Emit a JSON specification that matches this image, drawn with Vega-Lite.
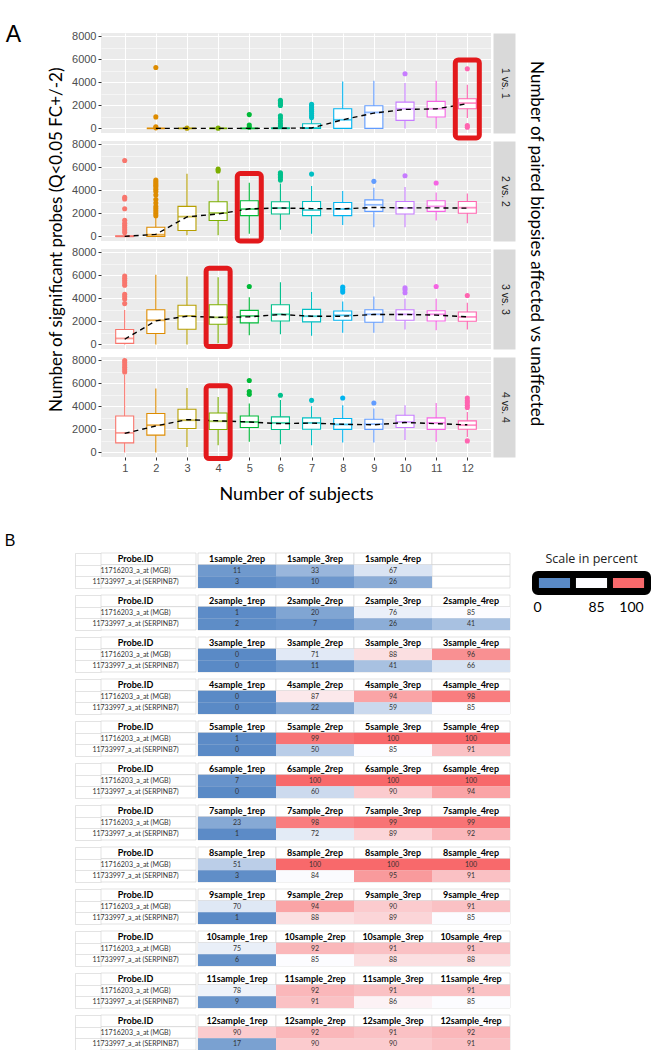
{
"$schema":"https://vega.github.io/schema/vega-lite/v6.json",
"padding":{"left":4,"top":24,"right":0,"bottom":0},
"background":"white",
"config":{"view":{"stroke":null},"title":{"color":"black"}},
"resolve":{"scale":{"color":"independent","stroke":"independent"}},
"spacing":29,
"datasets":{
"box":[
{"cmp":"1 vs. 1","n":2,"lo":0,"q1":0,"med":0,"q3":0,"hi":0,"tr":0},
{"cmp":"1 vs. 1","n":3,"lo":0,"q1":0,"med":0,"q3":0,"hi":0,"tr":0},
{"cmp":"1 vs. 1","n":4,"lo":0,"q1":0,"med":0,"q3":0,"hi":0,"tr":0},
{"cmp":"1 vs. 1","n":5,"lo":0,"q1":0,"med":0,"q3":0,"hi":0,"tr":0},
{"cmp":"1 vs. 1","n":6,"lo":0,"q1":0,"med":0,"q3":40,"hi":80,"tr":10},
{"cmp":"1 vs. 1","n":7,"lo":0,"q1":0,"med":40,"q3":400,"hi":850,"tr":40},
{"cmp":"1 vs. 1","n":8,"lo":0,"q1":0,"med":750,"q3":1710,"hi":4090,"tr":750},
{"cmp":"1 vs. 1","n":9,"lo":0,"q1":0,"med":1390,"q3":1970,"hi":4150,"tr":1330},
{"cmp":"1 vs. 1","n":10,"lo":0,"q1":700,"med":1710,"q3":2290,"hi":3940,"tr":1650},
{"cmp":"1 vs. 1","n":11,"lo":0,"q1":990,"med":1710,"q3":2350,"hi":4150,"tr":1700},
{"cmp":"1 vs. 1","n":12,"lo":900,"q1":1710,"med":2200,"q3":2580,"hi":3800,"tr":2150},
{"cmp":"2 vs. 2","n":1,"lo":0,"q1":0,"med":0,"q3":60,"hi":150,"tr":0},
{"cmp":"2 vs. 2","n":2,"lo":0,"q1":0,"med":150,"q3":800,"hi":1600,"tr":180},
{"cmp":"2 vs. 2","n":3,"lo":90,"q1":520,"med":1720,"q3":2610,"hi":5450,"tr":1700},
{"cmp":"2 vs. 2","n":4,"lo":90,"q1":1380,"med":2040,"q3":3010,"hi":4870,"tr":1950},
{"cmp":"2 vs. 2","n":5,"lo":230,"q1":1810,"med":2380,"q3":3100,"hi":4670,"tr":2400},
{"cmp":"2 vs. 2","n":6,"lo":570,"q1":1950,"med":2470,"q3":3010,"hi":4600,"tr":2470},
{"cmp":"2 vs. 2","n":7,"lo":230,"q1":1810,"med":2290,"q3":3040,"hi":4390,"tr":2420},
{"cmp":"2 vs. 2","n":8,"lo":1000,"q1":1810,"med":2380,"q3":2950,"hi":3960,"tr":2400},
{"cmp":"2 vs. 2","n":9,"lo":800,"q1":2180,"med":2750,"q3":3180,"hi":4240,"tr":2520},
{"cmp":"2 vs. 2","n":10,"lo":800,"q1":1950,"med":2470,"q3":3040,"hi":4300,"tr":2480},
{"cmp":"2 vs. 2","n":11,"lo":1380,"q1":2180,"med":2610,"q3":3100,"hi":3810,"tr":2480},
{"cmp":"2 vs. 2","n":12,"lo":1150,"q1":2010,"med":2500,"q3":3040,"hi":3730,"tr":2460},
{"cmp":"3 vs. 3","n":1,"lo":0,"q1":90,"med":520,"q3":1300,"hi":3000,"tr":450},
{"cmp":"3 vs. 3","n":2,"lo":0,"q1":950,"med":2100,"q3":3020,"hi":6070,"tr":2050},
{"cmp":"3 vs. 3","n":3,"lo":0,"q1":1320,"med":2480,"q3":3400,"hi":5900,"tr":2450},
{"cmp":"3 vs. 3","n":4,"lo":100,"q1":1750,"med":2350,"q3":3450,"hi":5850,"tr":2350},
{"cmp":"3 vs. 3","n":5,"lo":800,"q1":1870,"med":2480,"q3":2960,"hi":4110,"tr":2400},
{"cmp":"3 vs. 3","n":6,"lo":890,"q1":2040,"med":2620,"q3":3450,"hi":5410,"tr":2600},
{"cmp":"3 vs. 3","n":7,"lo":750,"q1":1960,"med":2450,"q3":3050,"hi":4550,"tr":2450},
{"cmp":"3 vs. 3","n":8,"lo":1010,"q1":2100,"med":2530,"q3":2900,"hi":3740,"tr":2450},
{"cmp":"3 vs. 3","n":9,"lo":1010,"q1":1930,"med":2620,"q3":3020,"hi":4170,"tr":2600},
{"cmp":"3 vs. 3","n":10,"lo":1300,"q1":2100,"med":2620,"q3":3020,"hi":3970,"tr":2600},
{"cmp":"3 vs. 3","n":11,"lo":1240,"q1":2040,"med":2620,"q3":2930,"hi":3970,"tr":2550},
{"cmp":"3 vs. 3","n":12,"lo":1300,"q1":2010,"med":2390,"q3":2820,"hi":3630,"tr":2400},
{"cmp":"4 vs. 4","n":1,"lo":0,"q1":830,"med":1700,"q3":3170,"hi":6750,"tr":1650},
{"cmp":"4 vs. 4","n":2,"lo":0,"q1":1500,"med":2370,"q3":3380,"hi":5550,"tr":2300},
{"cmp":"4 vs. 4","n":3,"lo":480,"q1":2080,"med":2800,"q3":3750,"hi":5600,"tr":2850},
{"cmp":"4 vs. 4","n":4,"lo":630,"q1":1990,"med":2710,"q3":3430,"hi":4820,"tr":2750},
{"cmp":"4 vs. 4","n":5,"lo":920,"q1":2170,"med":2650,"q3":3170,"hi":4250,"tr":2650},
{"cmp":"4 vs. 4","n":6,"lo":720,"q1":1990,"med":2570,"q3":3090,"hi":4550,"tr":2500},
{"cmp":"4 vs. 4","n":7,"lo":630,"q1":2020,"med":2570,"q3":3000,"hi":4010,"tr":2550},
{"cmp":"4 vs. 4","n":8,"lo":870,"q1":2000,"med":2430,"q3":2950,"hi":4100,"tr":2450},
{"cmp":"4 vs. 4","n":9,"lo":870,"q1":2000,"med":2460,"q3":2890,"hi":3810,"tr":2400},
{"cmp":"4 vs. 4","n":10,"lo":1070,"q1":2170,"med":2650,"q3":3230,"hi":4100,"tr":2600},
{"cmp":"4 vs. 4","n":11,"lo":920,"q1":2000,"med":2570,"q3":3000,"hi":4300,"tr":2500},
{"cmp":"4 vs. 4","n":12,"lo":1350,"q1":2020,"med":2370,"q3":2740,"hi":3520,"tr":2400}
],
"out":[
{"cmp":"1 vs. 1","n":2,"v":5300},{"cmp":"1 vs. 1","n":2,"v":1000},{"cmp":"1 vs. 1","n":2,"v":150},{"cmp":"1 vs. 1","n":2,"v":50},
{"cmp":"1 vs. 1","n":3,"v":20},{"cmp":"1 vs. 1","n":4,"v":20},
{"cmp":"1 vs. 1","n":5,"v":1200},{"cmp":"1 vs. 1","n":5,"v":300},{"cmp":"1 vs. 1","n":5,"v":100},
{"cmp":"1 vs. 1","n":6,"v":2450},{"cmp":"1 vs. 1","n":6,"v":2300},{"cmp":"1 vs. 1","n":6,"v":2150},{"cmp":"1 vs. 1","n":6,"v":2000},{"cmp":"1 vs. 1","n":6,"v":1100},{"cmp":"1 vs. 1","n":6,"v":900},{"cmp":"1 vs. 1","n":6,"v":650},{"cmp":"1 vs. 1","n":6,"v":400},{"cmp":"1 vs. 1","n":6,"v":200},
{"cmp":"1 vs. 1","n":7,"v":2100},{"cmp":"1 vs. 1","n":7,"v":1950},{"cmp":"1 vs. 1","n":7,"v":1800},{"cmp":"1 vs. 1","n":7,"v":1650},{"cmp":"1 vs. 1","n":7,"v":1500},{"cmp":"1 vs. 1","n":7,"v":1300},{"cmp":"1 vs. 1","n":7,"v":1100},{"cmp":"1 vs. 1","n":7,"v":950},
{"cmp":"1 vs. 1","n":10,"v":4760},
{"cmp":"1 vs. 1","n":12,"v":5190},{"cmp":"1 vs. 1","n":12,"v":250},{"cmp":"1 vs. 1","n":12,"v":100},
{"cmp":"2 vs. 2","n":1,"v":6600},{"cmp":"2 vs. 2","n":1,"v":3400},{"cmp":"2 vs. 2","n":1,"v":3250},{"cmp":"2 vs. 2","n":1,"v":2400},{"cmp":"2 vs. 2","n":1,"v":1400},{"cmp":"2 vs. 2","n":1,"v":1150},{"cmp":"2 vs. 2","n":1,"v":950},{"cmp":"2 vs. 2","n":1,"v":750},{"cmp":"2 vs. 2","n":1,"v":550},{"cmp":"2 vs. 2","n":1,"v":350},
{"cmp":"2 vs. 2","n":2,"v":4900},{"cmp":"2 vs. 2","n":2,"v":4750},{"cmp":"2 vs. 2","n":2,"v":4600},{"cmp":"2 vs. 2","n":2,"v":4450},{"cmp":"2 vs. 2","n":2,"v":4300},{"cmp":"2 vs. 2","n":2,"v":4100},{"cmp":"2 vs. 2","n":2,"v":3900},{"cmp":"2 vs. 2","n":2,"v":3600},{"cmp":"2 vs. 2","n":2,"v":3200},{"cmp":"2 vs. 2","n":2,"v":2900},{"cmp":"2 vs. 2","n":2,"v":2600},{"cmp":"2 vs. 2","n":2,"v":2400},{"cmp":"2 vs. 2","n":2,"v":2200},{"cmp":"2 vs. 2","n":2,"v":2000},{"cmp":"2 vs. 2","n":2,"v":1800},
{"cmp":"2 vs. 2","n":4,"v":5850},{"cmp":"2 vs. 2","n":4,"v":5700},
{"cmp":"2 vs. 2","n":6,"v":5530},{"cmp":"2 vs. 2","n":6,"v":5400},{"cmp":"2 vs. 2","n":6,"v":5250},{"cmp":"2 vs. 2","n":6,"v":5100},{"cmp":"2 vs. 2","n":6,"v":4900},
{"cmp":"2 vs. 2","n":7,"v":5420},{"cmp":"2 vs. 2","n":9,"v":4790},{"cmp":"2 vs. 2","n":10,"v":5280},{"cmp":"2 vs. 2","n":11,"v":4650},
{"cmp":"3 vs. 3","n":1,"v":5950},{"cmp":"3 vs. 3","n":1,"v":5750},{"cmp":"3 vs. 3","n":1,"v":5550},{"cmp":"3 vs. 3","n":1,"v":5350},{"cmp":"3 vs. 3","n":1,"v":5150},{"cmp":"3 vs. 3","n":1,"v":4350},{"cmp":"3 vs. 3","n":1,"v":4150},{"cmp":"3 vs. 3","n":1,"v":3950},{"cmp":"3 vs. 3","n":1,"v":3550},
{"cmp":"3 vs. 3","n":5,"v":5040},
{"cmp":"3 vs. 3","n":8,"v":4980},{"cmp":"3 vs. 3","n":8,"v":4750},{"cmp":"3 vs. 3","n":8,"v":4550},
{"cmp":"3 vs. 3","n":10,"v":4920},{"cmp":"3 vs. 3","n":10,"v":4750},{"cmp":"3 vs. 3","n":10,"v":4490},
{"cmp":"3 vs. 3","n":11,"v":5040},{"cmp":"3 vs. 3","n":12,"v":4260},
{"cmp":"4 vs. 4","n":1,"v":8000},{"cmp":"4 vs. 4","n":1,"v":7800},{"cmp":"4 vs. 4","n":1,"v":7600},{"cmp":"4 vs. 4","n":1,"v":7400},{"cmp":"4 vs. 4","n":1,"v":7200},{"cmp":"4 vs. 4","n":1,"v":7000},
{"cmp":"4 vs. 4","n":5,"v":6250},{"cmp":"4 vs. 4","n":5,"v":5300},{"cmp":"4 vs. 4","n":5,"v":5050},
{"cmp":"4 vs. 4","n":6,"v":4970},{"cmp":"4 vs. 4","n":7,"v":4530},{"cmp":"4 vs. 4","n":8,"v":4730},{"cmp":"4 vs. 4","n":9,"v":4300},
{"cmp":"4 vs. 4","n":12,"v":4730},{"cmp":"4 vs. 4","n":12,"v":4500},{"cmp":"4 vs. 4","n":12,"v":4330},{"cmp":"4 vs. 4","n":12,"v":4100},{"cmp":"4 vs. 4","n":12,"v":3900},{"cmp":"4 vs. 4","n":12,"v":1000}
],
"hl":[
{"cmp":"1 vs. 1","n":12,"top":5950,"bot":-830},
{"cmp":"2 vs. 2","n":5,"top":5470,"bot":-390},
{"cmp":"3 vs. 3","n":4,"top":6630,"bot":-190},
{"cmp":"4 vs. 4","n":4,"top":5790,"bot":-540}
],
"tbl":[
{"b":1,"c":0,"r":"h","t":"Probe.ID"},{"b":1,"c":0,"r":"a","t":"11716203_a_at (MGB)"},{"b":1,"c":0,"r":"b","t":"11733997_a_at (SERPINB7)"},
{"b":1,"c":1,"r":"h","t":"1sample_2rep"},{"b":1,"c":1,"r":"a","p":11},{"b":1,"c":1,"r":"b","p":3},
{"b":1,"c":2,"r":"h","t":"1sample_3rep"},{"b":1,"c":2,"r":"a","p":33},{"b":1,"c":2,"r":"b","p":10},
{"b":1,"c":3,"r":"h","t":"1sample_4rep"},{"b":1,"c":3,"r":"a","p":67},{"b":1,"c":3,"r":"b","p":26},
{"b":1,"c":4,"r":"h","t":""},{"b":1,"c":4,"r":"a"},{"b":1,"c":4,"r":"b"},
{"b":2,"c":0,"r":"h","t":"Probe.ID"},{"b":2,"c":0,"r":"a","t":"11716203_a_at (MGB)"},{"b":2,"c":0,"r":"b","t":"11733997_a_at (SERPINB7)"},
{"b":2,"c":1,"r":"h","t":"2sample_1rep"},{"b":2,"c":1,"r":"a","p":1},{"b":2,"c":1,"r":"b","p":2},
{"b":2,"c":2,"r":"h","t":"2sample_2rep"},{"b":2,"c":2,"r":"a","p":20},{"b":2,"c":2,"r":"b","p":7},
{"b":2,"c":3,"r":"h","t":"2sample_3rep"},{"b":2,"c":3,"r":"a","p":76},{"b":2,"c":3,"r":"b","p":26},
{"b":2,"c":4,"r":"h","t":"2sample_4rep"},{"b":2,"c":4,"r":"a","p":85},{"b":2,"c":4,"r":"b","p":41},
{"b":3,"c":0,"r":"h","t":"Probe.ID"},{"b":3,"c":0,"r":"a","t":"11716203_a_at (MGB)"},{"b":3,"c":0,"r":"b","t":"11733997_a_at (SERPINB7)"},
{"b":3,"c":1,"r":"h","t":"3sample_1rep"},{"b":3,"c":1,"r":"a","p":0},{"b":3,"c":1,"r":"b","p":0},
{"b":3,"c":2,"r":"h","t":"3sample_2rep"},{"b":3,"c":2,"r":"a","p":71},{"b":3,"c":2,"r":"b","p":11},
{"b":3,"c":3,"r":"h","t":"3sample_3rep"},{"b":3,"c":3,"r":"a","p":88},{"b":3,"c":3,"r":"b","p":41},
{"b":3,"c":4,"r":"h","t":"3sample_4rep"},{"b":3,"c":4,"r":"a","p":96},{"b":3,"c":4,"r":"b","p":66},
{"b":4,"c":0,"r":"h","t":"Probe.ID"},{"b":4,"c":0,"r":"a","t":"11716203_a_at (MGB)"},{"b":4,"c":0,"r":"b","t":"11733997_a_at (SERPINB7)"},
{"b":4,"c":1,"r":"h","t":"4sample_1rep"},{"b":4,"c":1,"r":"a","p":0},{"b":4,"c":1,"r":"b","p":0},
{"b":4,"c":2,"r":"h","t":"4sample_2rep"},{"b":4,"c":2,"r":"a","p":87},{"b":4,"c":2,"r":"b","p":22},
{"b":4,"c":3,"r":"h","t":"4sample_3rep"},{"b":4,"c":3,"r":"a","p":94},{"b":4,"c":3,"r":"b","p":59},
{"b":4,"c":4,"r":"h","t":"4sample_4rep"},{"b":4,"c":4,"r":"a","p":98},{"b":4,"c":4,"r":"b","p":85},
{"b":5,"c":0,"r":"h","t":"Probe.ID"},{"b":5,"c":0,"r":"a","t":"11716203_a_at (MGB)"},{"b":5,"c":0,"r":"b","t":"11733997_a_at (SERPINB7)"},
{"b":5,"c":1,"r":"h","t":"5sample_1rep"},{"b":5,"c":1,"r":"a","p":1},{"b":5,"c":1,"r":"b","p":0},
{"b":5,"c":2,"r":"h","t":"5sample_2rep"},{"b":5,"c":2,"r":"a","p":99},{"b":5,"c":2,"r":"b","p":50},
{"b":5,"c":3,"r":"h","t":"5sample_3rep"},{"b":5,"c":3,"r":"a","p":100},{"b":5,"c":3,"r":"b","p":85},
{"b":5,"c":4,"r":"h","t":"5sample_4rep"},{"b":5,"c":4,"r":"a","p":100},{"b":5,"c":4,"r":"b","p":91},
{"b":6,"c":0,"r":"h","t":"Probe.ID"},{"b":6,"c":0,"r":"a","t":"11716203_a_at (MGB)"},{"b":6,"c":0,"r":"b","t":"11733997_a_at (SERPINB7)"},
{"b":6,"c":1,"r":"h","t":"6sample_1rep"},{"b":6,"c":1,"r":"a","p":7},{"b":6,"c":1,"r":"b","p":0},
{"b":6,"c":2,"r":"h","t":"6sample_2rep"},{"b":6,"c":2,"r":"a","p":100},{"b":6,"c":2,"r":"b","p":60},
{"b":6,"c":3,"r":"h","t":"6sample_3rep"},{"b":6,"c":3,"r":"a","p":100},{"b":6,"c":3,"r":"b","p":90},
{"b":6,"c":4,"r":"h","t":"6sample_4rep"},{"b":6,"c":4,"r":"a","p":100},{"b":6,"c":4,"r":"b","p":94},
{"b":7,"c":0,"r":"h","t":"Probe.ID"},{"b":7,"c":0,"r":"a","t":"11716203_a_at (MGB)"},{"b":7,"c":0,"r":"b","t":"11733997_a_at (SERPINB7)"},
{"b":7,"c":1,"r":"h","t":"7sample_1rep"},{"b":7,"c":1,"r":"a","p":23},{"b":7,"c":1,"r":"b","p":1},
{"b":7,"c":2,"r":"h","t":"7sample_2rep"},{"b":7,"c":2,"r":"a","p":98},{"b":7,"c":2,"r":"b","p":72},
{"b":7,"c":3,"r":"h","t":"7sample_3rep"},{"b":7,"c":3,"r":"a","p":99},{"b":7,"c":3,"r":"b","p":89},
{"b":7,"c":4,"r":"h","t":"7sample_4rep"},{"b":7,"c":4,"r":"a","p":99},{"b":7,"c":4,"r":"b","p":92},
{"b":8,"c":0,"r":"h","t":"Probe.ID"},{"b":8,"c":0,"r":"a","t":"11716203_a_at (MGB)"},{"b":8,"c":0,"r":"b","t":"11733997_a_at (SERPINB7)"},
{"b":8,"c":1,"r":"h","t":"8sample_1rep"},{"b":8,"c":1,"r":"a","p":51},{"b":8,"c":1,"r":"b","p":3},
{"b":8,"c":2,"r":"h","t":"8sample_2rep"},{"b":8,"c":2,"r":"a","p":100},{"b":8,"c":2,"r":"b","p":84},
{"b":8,"c":3,"r":"h","t":"8sample_3rep"},{"b":8,"c":3,"r":"a","p":100},{"b":8,"c":3,"r":"b","p":95},
{"b":8,"c":4,"r":"h","t":"8sample_4rep"},{"b":8,"c":4,"r":"a","p":100},{"b":8,"c":4,"r":"b","p":91},
{"b":9,"c":0,"r":"h","t":"Probe.ID"},{"b":9,"c":0,"r":"a","t":"11716203_a_at (MGB)"},{"b":9,"c":0,"r":"b","t":"11733997_a_at (SERPINB7)"},
{"b":9,"c":1,"r":"h","t":"9sample_1rep"},{"b":9,"c":1,"r":"a","p":70},{"b":9,"c":1,"r":"b","p":1},
{"b":9,"c":2,"r":"h","t":"9sample_2rep"},{"b":9,"c":2,"r":"a","p":94},{"b":9,"c":2,"r":"b","p":88},
{"b":9,"c":3,"r":"h","t":"9sample_3rep"},{"b":9,"c":3,"r":"a","p":90},{"b":9,"c":3,"r":"b","p":89},
{"b":9,"c":4,"r":"h","t":"9sample_4rep"},{"b":9,"c":4,"r":"a","p":91},{"b":9,"c":4,"r":"b","p":85},
{"b":10,"c":0,"r":"h","t":"Probe.ID"},{"b":10,"c":0,"r":"a","t":"11716203_a_at (MGB)"},{"b":10,"c":0,"r":"b","t":"11733997_a_at (SERPINB7)"},
{"b":10,"c":1,"r":"h","t":"10sample_1rep"},{"b":10,"c":1,"r":"a","p":75},{"b":10,"c":1,"r":"b","p":6},
{"b":10,"c":2,"r":"h","t":"10sample_2rep"},{"b":10,"c":2,"r":"a","p":92},{"b":10,"c":2,"r":"b","p":85},
{"b":10,"c":3,"r":"h","t":"10sample_3rep"},{"b":10,"c":3,"r":"a","p":91},{"b":10,"c":3,"r":"b","p":88},
{"b":10,"c":4,"r":"h","t":"10sample_4rep"},{"b":10,"c":4,"r":"a","p":91},{"b":10,"c":4,"r":"b","p":88},
{"b":11,"c":0,"r":"h","t":"Probe.ID"},{"b":11,"c":0,"r":"a","t":"11716203_a_at (MGB)"},{"b":11,"c":0,"r":"b","t":"11733997_a_at (SERPINB7)"},
{"b":11,"c":1,"r":"h","t":"11sample_1rep"},{"b":11,"c":1,"r":"a","p":78},{"b":11,"c":1,"r":"b","p":9},
{"b":11,"c":2,"r":"h","t":"11sample_2rep"},{"b":11,"c":2,"r":"a","p":92},{"b":11,"c":2,"r":"b","p":91},
{"b":11,"c":3,"r":"h","t":"11sample_3rep"},{"b":11,"c":3,"r":"a","p":91},{"b":11,"c":3,"r":"b","p":86},
{"b":11,"c":4,"r":"h","t":"11sample_4rep"},{"b":11,"c":4,"r":"a","p":91},{"b":11,"c":4,"r":"b","p":85},
{"b":12,"c":0,"r":"h","t":"Probe.ID"},{"b":12,"c":0,"r":"a","t":"11716203_a_at (MGB)"},{"b":12,"c":0,"r":"b","t":"11733997_a_at (SERPINB7)"},
{"b":12,"c":1,"r":"h","t":"12sample_1rep"},{"b":12,"c":1,"r":"a","p":90},{"b":12,"c":1,"r":"b","p":17},
{"b":12,"c":2,"r":"h","t":"12sample_2rep"},{"b":12,"c":2,"r":"a","p":92},{"b":12,"c":2,"r":"b","p":90},
{"b":12,"c":3,"r":"h","t":"12sample_3rep"},{"b":12,"c":3,"r":"a","p":91},{"b":12,"c":3,"r":"b","p":90},
{"b":12,"c":4,"r":"h","t":"12sample_4rep"},{"b":12,"c":4,"r":"a","p":92},{"b":12,"c":4,"r":"b","p":91}
]
},
"vconcat":[
{
"title":{"text":"A","orient":"left","anchor":"end","angle":0,"align":"right","baseline":"top","font":"Liberation Sans","fontSize":23,"fontWeight":"normal","offset":11,"dy":-6},
"vconcat":[{
"title":{"text":"Number of paired biopsies affected vs unaffected","orient":"right","anchor":"middle","font":"Lato","fontSize":17,"fontWeight":"normal","offset":18,"dx":-23},
"vconcat":[{
"title":{"text":"Number of significant probes (Q<0.05 FC+/-2)","orient":"left","anchor":"middle","font":"Lato","fontSize":17,"fontWeight":"normal","offset":6,"dx":27},
"spacing":8,
"bounds":"flush",
"vconcat":[
{"width":390,"height":100,"view":{"fill":"#ebebeb","stroke":null},
"resolve":{"axis":{"y":"independent"}},
"encoding":{"x":{"field":"n","type":"quantitative","title":null,"scale":{"domain":[0.4,12.6],"nice":false,"zero":false},"axis":{"values":[1,2,3,4,5,6,7,8,9,10,11,12],"tickCount":30,"labels":false,"ticks":false,"domain":false,"grid":true,"gridColor":"white","gridWidth":1.1,"title":null}}},
"layer":[
{"layer":[
{"data":{"name":"box"},"transform":[{"filter":"datum.cmp === '1 vs. 1'"}],"mark":{"type":"rule","strokeWidth":1.1},"encoding":{"y":{"field":"lo","type":"quantitative","scale":{"domain":[-400,8300],"nice":false,"zero":false},"axis":{"orient":"left","values":[0,2000,4000,6000,8000],"tickCount":30,"format":"d","labelOverlap":false,"domain":false,"grid":true,"gridColor":"white","gridWidth":1.1,"tickColor":"#333333","tickSize":3,"labelColor":"#4d4d4d","labelFont":"Liberation Sans","labelFontSize":11,"labelPadding":2,"labelFlush":false,"title":null}},"y2":{"field":"hi"},"color":{"field":"n","type":"ordinal","scale":{"domain":[1,2,3,4,5,6,7,8,9,10,11,12],"range":["#F8766D","#DE8C00","#B79F00","#7CAE00","#00BA38","#00C08B","#00BFC4","#00B4F0","#619CFF","#C77CFF","#F564E3","#FF64B0"]},"legend":null}}},
{"data":{"name":"box"},"transform":[{"filter":"datum.cmp === '1 vs. 1'"}],"mark":{"type":"bar","fill":"white","strokeWidth":1.1,"size":18},"encoding":{"y":{"field":"q1","type":"quantitative","title":null},"y2":{"field":"q3"},"stroke":{"field":"n","type":"ordinal","scale":{"domain":[1,2,3,4,5,6,7,8,9,10,11,12],"range":["#F8766D","#DE8C00","#B79F00","#7CAE00","#00BA38","#00C08B","#00BFC4","#00B4F0","#619CFF","#C77CFF","#F564E3","#FF64B0"]},"legend":null}}},
{"data":{"name":"box"},"transform":[{"filter":"datum.cmp === '1 vs. 1'"}],"mark":{"type":"tick","orient":"horizontal","size":18,"thickness":1.8},"encoding":{"y":{"field":"med","type":"quantitative","title":null},"color":{"field":"n","type":"ordinal","legend":null}}},
{"data":{"name":"out"},"transform":[{"filter":"datum.cmp === '1 vs. 1'"}],"mark":{"type":"circle","size":26,"opacity":1},"encoding":{"y":{"field":"v","type":"quantitative","title":null},"color":{"field":"n","type":"ordinal","legend":null}}},
{"data":{"name":"box"},"transform":[{"filter":"datum.cmp === '1 vs. 1'"}],"mark":{"type":"line","color":"black","strokeDash":[5,4],"strokeWidth":1.4},"encoding":{"y":{"field":"tr","type":"quantitative","title":null}}}
]},
{"data":{"name":"hl"},"transform":[{"filter":"datum.cmp === '1 vs. 1'"}],"mark":{"type":"bar","fill":"white","fillOpacity":0,"stroke":"#e3191c","strokeWidth":5,"size":24,"cornerRadius":3},"encoding":{"y":{"field":"top","type":"quantitative","axis":{"orient":"right","offset":13,"values":[1000,3000,5000,7000],"tickCount":30,"grid":true,"gridColor":"white","gridWidth":0.5,"domain":true,"domainColor":"#d9d9d9","domainWidth":22,"domainCap":"butt","ticks":false,"labels":false,"title":"1 vs. 1","titleAngle":90,"titleX":0,"titleAlign":"center","titleBaseline":"middle","titleFont":"Liberation Sans","titleFontSize":10.5,"titleFontWeight":"normal","titleColor":"#1a1a1a"}},"y2":{"field":"bot"}}}
]},
{"width":390,"height":100,"view":{"fill":"#ebebeb","stroke":null},
"resolve":{"axis":{"y":"independent"}},
"encoding":{"x":{"field":"n","type":"quantitative","title":null,"scale":{"domain":[0.4,12.6],"nice":false,"zero":false},"axis":{"values":[1,2,3,4,5,6,7,8,9,10,11,12],"tickCount":30,"labels":false,"ticks":false,"domain":false,"grid":true,"gridColor":"white","gridWidth":1.1,"title":null}}},
"layer":[
{"layer":[
{"data":{"name":"box"},"transform":[{"filter":"datum.cmp === '2 vs. 2'"}],"mark":{"type":"rule","strokeWidth":1.1},"encoding":{"y":{"field":"lo","type":"quantitative","scale":{"domain":[-400,8300],"nice":false,"zero":false},"axis":{"orient":"left","values":[0,2000,4000,6000,8000],"tickCount":30,"format":"d","labelOverlap":false,"domain":false,"grid":true,"gridColor":"white","gridWidth":1.1,"tickColor":"#333333","tickSize":3,"labelColor":"#4d4d4d","labelFont":"Liberation Sans","labelFontSize":11,"labelPadding":2,"labelFlush":false,"title":null}},"y2":{"field":"hi"},"color":{"field":"n","type":"ordinal","legend":null}}},
{"data":{"name":"box"},"transform":[{"filter":"datum.cmp === '2 vs. 2'"}],"mark":{"type":"bar","fill":"white","strokeWidth":1.1,"size":18},"encoding":{"y":{"field":"q1","type":"quantitative","title":null},"y2":{"field":"q3"},"stroke":{"field":"n","type":"ordinal","legend":null}}},
{"data":{"name":"box"},"transform":[{"filter":"datum.cmp === '2 vs. 2'"}],"mark":{"type":"tick","orient":"horizontal","size":18,"thickness":1.8},"encoding":{"y":{"field":"med","type":"quantitative","title":null},"color":{"field":"n","type":"ordinal","legend":null}}},
{"data":{"name":"out"},"transform":[{"filter":"datum.cmp === '2 vs. 2'"}],"mark":{"type":"circle","size":26,"opacity":1},"encoding":{"y":{"field":"v","type":"quantitative","title":null},"color":{"field":"n","type":"ordinal","legend":null}}},
{"data":{"name":"box"},"transform":[{"filter":"datum.cmp === '2 vs. 2'"}],"mark":{"type":"line","color":"black","strokeDash":[5,4],"strokeWidth":1.4},"encoding":{"y":{"field":"tr","type":"quantitative","title":null}}}
]},
{"data":{"name":"hl"},"transform":[{"filter":"datum.cmp === '2 vs. 2'"}],"mark":{"type":"bar","fill":"white","fillOpacity":0,"stroke":"#e3191c","strokeWidth":5,"size":24,"cornerRadius":3},"encoding":{"y":{"field":"top","type":"quantitative","axis":{"orient":"right","offset":13,"values":[1000,3000,5000,7000],"tickCount":30,"grid":true,"gridColor":"white","gridWidth":0.5,"domain":true,"domainColor":"#d9d9d9","domainWidth":22,"domainCap":"butt","ticks":false,"labels":false,"title":"2 vs. 2","titleAngle":90,"titleX":0,"titleAlign":"center","titleBaseline":"middle","titleFont":"Liberation Sans","titleFontSize":10.5,"titleFontWeight":"normal","titleColor":"#1a1a1a"}},"y2":{"field":"bot"}}}
]},
{"width":390,"height":100,"view":{"fill":"#ebebeb","stroke":null},
"resolve":{"axis":{"y":"independent"}},
"encoding":{"x":{"field":"n","type":"quantitative","title":null,"scale":{"domain":[0.4,12.6],"nice":false,"zero":false},"axis":{"values":[1,2,3,4,5,6,7,8,9,10,11,12],"tickCount":30,"labels":false,"ticks":false,"domain":false,"grid":true,"gridColor":"white","gridWidth":1.1,"title":null}}},
"layer":[
{"layer":[
{"data":{"name":"box"},"transform":[{"filter":"datum.cmp === '3 vs. 3'"}],"mark":{"type":"rule","strokeWidth":1.1},"encoding":{"y":{"field":"lo","type":"quantitative","scale":{"domain":[-400,8300],"nice":false,"zero":false},"axis":{"orient":"left","values":[0,2000,4000,6000,8000],"tickCount":30,"format":"d","labelOverlap":false,"domain":false,"grid":true,"gridColor":"white","gridWidth":1.1,"tickColor":"#333333","tickSize":3,"labelColor":"#4d4d4d","labelFont":"Liberation Sans","labelFontSize":11,"labelPadding":2,"labelFlush":false,"title":null}},"y2":{"field":"hi"},"color":{"field":"n","type":"ordinal","legend":null}}},
{"data":{"name":"box"},"transform":[{"filter":"datum.cmp === '3 vs. 3'"}],"mark":{"type":"bar","fill":"white","strokeWidth":1.1,"size":18},"encoding":{"y":{"field":"q1","type":"quantitative","title":null},"y2":{"field":"q3"},"stroke":{"field":"n","type":"ordinal","legend":null}}},
{"data":{"name":"box"},"transform":[{"filter":"datum.cmp === '3 vs. 3'"}],"mark":{"type":"tick","orient":"horizontal","size":18,"thickness":1.8},"encoding":{"y":{"field":"med","type":"quantitative","title":null},"color":{"field":"n","type":"ordinal","legend":null}}},
{"data":{"name":"out"},"transform":[{"filter":"datum.cmp === '3 vs. 3'"}],"mark":{"type":"circle","size":26,"opacity":1},"encoding":{"y":{"field":"v","type":"quantitative","title":null},"color":{"field":"n","type":"ordinal","legend":null}}},
{"data":{"name":"box"},"transform":[{"filter":"datum.cmp === '3 vs. 3'"}],"mark":{"type":"line","color":"black","strokeDash":[5,4],"strokeWidth":1.4},"encoding":{"y":{"field":"tr","type":"quantitative","title":null}}}
]},
{"data":{"name":"hl"},"transform":[{"filter":"datum.cmp === '3 vs. 3'"}],"mark":{"type":"bar","fill":"white","fillOpacity":0,"stroke":"#e3191c","strokeWidth":5,"size":24,"cornerRadius":3},"encoding":{"y":{"field":"top","type":"quantitative","axis":{"orient":"right","offset":13,"values":[1000,3000,5000,7000],"tickCount":30,"grid":true,"gridColor":"white","gridWidth":0.5,"domain":true,"domainColor":"#d9d9d9","domainWidth":22,"domainCap":"butt","ticks":false,"labels":false,"title":"3 vs. 3","titleAngle":90,"titleX":0,"titleAlign":"center","titleBaseline":"middle","titleFont":"Liberation Sans","titleFontSize":10.5,"titleFontWeight":"normal","titleColor":"#1a1a1a"}},"y2":{"field":"bot"}}}
]},
{"width":390,"height":100,"view":{"fill":"#ebebeb","stroke":null},
"resolve":{"axis":{"y":"independent"}},
"encoding":{"x":{"field":"n","type":"quantitative","scale":{"domain":[0.4,12.6],"nice":false,"zero":false},"axis":{"values":[1,2,3,4,5,6,7,8,9,10,11,12],"tickCount":30,"format":"d","domain":false,"grid":true,"gridColor":"white","gridWidth":1.1,"tickColor":"#333333","tickSize":3,"labelColor":"#4d4d4d","labelFont":"Liberation Sans","labelFontSize":11,"labelPadding":2,"labelFlush":false,"title":"Number of subjects","titleFont":"Lato","titleFontSize":18,"titleFontWeight":"normal","titleColor":"black","titlePadding":12}}},
"layer":[
{"layer":[
{"data":{"name":"box"},"transform":[{"filter":"datum.cmp === '4 vs. 4'"}],"mark":{"type":"rule","strokeWidth":1.1},"encoding":{"y":{"field":"lo","type":"quantitative","scale":{"domain":[-400,8300],"nice":false,"zero":false},"axis":{"orient":"left","values":[0,2000,4000,6000,8000],"tickCount":30,"format":"d","labelOverlap":false,"domain":false,"grid":true,"gridColor":"white","gridWidth":1.1,"tickColor":"#333333","tickSize":3,"labelColor":"#4d4d4d","labelFont":"Liberation Sans","labelFontSize":11,"labelPadding":2,"labelFlush":false,"title":null}},"y2":{"field":"hi"},"color":{"field":"n","type":"ordinal","legend":null}}},
{"data":{"name":"box"},"transform":[{"filter":"datum.cmp === '4 vs. 4'"}],"mark":{"type":"bar","fill":"white","strokeWidth":1.1,"size":18},"encoding":{"y":{"field":"q1","type":"quantitative","title":null},"y2":{"field":"q3"},"stroke":{"field":"n","type":"ordinal","legend":null}}},
{"data":{"name":"box"},"transform":[{"filter":"datum.cmp === '4 vs. 4'"}],"mark":{"type":"tick","orient":"horizontal","size":18,"thickness":1.8},"encoding":{"y":{"field":"med","type":"quantitative","title":null},"color":{"field":"n","type":"ordinal","legend":null}}},
{"data":{"name":"out"},"transform":[{"filter":"datum.cmp === '4 vs. 4'"}],"mark":{"type":"circle","size":26,"opacity":1},"encoding":{"y":{"field":"v","type":"quantitative","title":null},"color":{"field":"n","type":"ordinal","legend":null}}},
{"data":{"name":"box"},"transform":[{"filter":"datum.cmp === '4 vs. 4'"}],"mark":{"type":"line","color":"black","strokeDash":[5,4],"strokeWidth":1.4},"encoding":{"y":{"field":"tr","type":"quantitative","title":null}}}
]},
{"data":{"name":"hl"},"transform":[{"filter":"datum.cmp === '4 vs. 4'"}],"mark":{"type":"bar","fill":"white","fillOpacity":0,"stroke":"#e3191c","strokeWidth":5,"size":24,"cornerRadius":3},"encoding":{"y":{"field":"top","type":"quantitative","axis":{"orient":"right","offset":13,"values":[1000,3000,5000,7000],"tickCount":30,"grid":true,"gridColor":"white","gridWidth":0.5,"domain":true,"domainColor":"#d9d9d9","domainWidth":22,"domainCap":"butt","ticks":false,"labels":false,"title":"4 vs. 4","titleAngle":90,"titleX":0,"titleAlign":"center","titleBaseline":"middle","titleFont":"Liberation Sans","titleFontSize":10.5,"titleFontWeight":"normal","titleColor":"#1a1a1a"}},"y2":{"field":"bot"}}}
]}
]
}]
}]
},
{
"title":{"text":"B","orient":"top","anchor":"start","font":"Liberation Sans","fontSize":16,"fontWeight":"normal","dx":-70,"offset":4},
"spacing":20,
"hconcat":[
{"spacing":0,"hconcat":[
{"data":{"name":"tbl"},"transform":[{"filter":"datum.c === 0"}],
"facet":{"row":{"field":"b","type":"ordinal","header":null}},
"spacing":7,
"bounds":"flush",
"spec":{"width":95,"height":35,
"encoding":{"x":{"field":"c","type":"ordinal","axis":null,"scale":{"paddingInner":0,"paddingOuter":0}},"y":{"field":"r","type":"nominal","scale":{"domain":["h","a","b"],"paddingInner":0,"paddingOuter":0},"axis":{"orient":"left","offset":26,"tickSize":-26,"tickBand":"extent","ticks":true,"tickColor":"#d0d0d0","tickWidth":0.6,"domain":true,"domainColor":"#d0d0d0","domainWidth":0.6,"labels":false,"grid":false,"title":null}}},
"layer":[
{"mark":{"type":"rect","fill":"white","stroke":"#d0d0d0","strokeWidth":0.6}},
{"transform":[{"filter":"datum.r === 'h'"}],"mark":{"type":"text","font":"Lato","fontSize":9,"fontWeight":"bold","color":"black","dx":-13},"encoding":{"text":{"field":"t"}}},
{"transform":[{"filter":"datum.r !== 'h'"}],"mark":{"type":"text","font":"Lato","fontSize":7,"color":"#333333","dx":-13},"encoding":{"text":{"field":"t"}}}
]}},
{"data":{"name":"tbl"},"transform":[{"filter":"datum.c > 0"}],
"facet":{"row":{"field":"b","type":"ordinal","header":null}},
"spacing":7,
"bounds":"flush",
"spec":{"width":312,"height":35,
"encoding":{"x":{"field":"c","type":"ordinal","axis":null,"scale":{"paddingInner":0,"paddingOuter":0}},"y":{"field":"r","type":"nominal","axis":null,"scale":{"domain":["h","a","b"],"paddingInner":0,"paddingOuter":0}}},
"layer":[
{"mark":{"type":"rect","fill":"white","stroke":"#d0d0d0","strokeWidth":0.6}},
{"transform":[{"filter":"isValid(datum.p)"}],"mark":{"type":"rect"},"encoding":{"color":{"field":"p","type":"quantitative","scale":{"domain":[0,85,100],"range":["#5A8AC6","#FCFCFF","#F8696B"],"interpolate":"rgb"},"legend":null}}},
{"transform":[{"filter":"datum.r === 'h'"}],"mark":{"type":"text","font":"Lato","fontSize":9,"fontWeight":"bold","color":"black"},"encoding":{"text":{"field":"t"}}},
{"transform":[{"filter":"isValid(datum.p)"}],"mark":{"type":"text","font":"Lato","fontSize":7,"color":"#333333"},"encoding":{"text":{"field":"p","type":"quantitative","format":"d"}}}
]}}
]},
{"spacing":5,"vconcat":[
{"width":117,"height":12,"data":{"values":[{"s":"Scale in percent"}]},"mark":{"type":"text","font":"Open Sans","fontSize":12.5,"color":"#222222"},"encoding":{"text":{"field":"s"}}},
{"width":117,"height":22,
"view":{"fill":"black","stroke":"black","strokeWidth":2,"cornerRadius":5},
"data":{"values":[{"lab":"0","p":0,"g":"s"},{"lab":"85","p":85,"g":"s"},{"lab":"100","p":100,"g":"s"}]},
"mark":{"type":"rect"},
"encoding":{
"x":{"field":"lab","type":"nominal","sort":null,"scale":{"paddingInner":0.16,"paddingOuter":0.16},"axis":{"domain":false,"ticks":false,"labelAngle":0,"labelPadding":6,"labelFont":"Lato","labelFontSize":14,"labelColor":"black","title":null,"labelOffset":{"condition":[{"test":"datum.value === '0'","value":-17},{"test":"datum.value === '100'","value":3}],"value":5}}},
"y":{"field":"g","type":"nominal","axis":null,"scale":{"paddingInner":0,"paddingOuter":0.6}},
"color":{"field":"p","type":"quantitative","scale":{"domain":[0,85,100],"range":["#5A8AC6","#FCFCFF","#F8696B"],"interpolate":"rgb"},"legend":null}
}}
]}
]
}
]
}
